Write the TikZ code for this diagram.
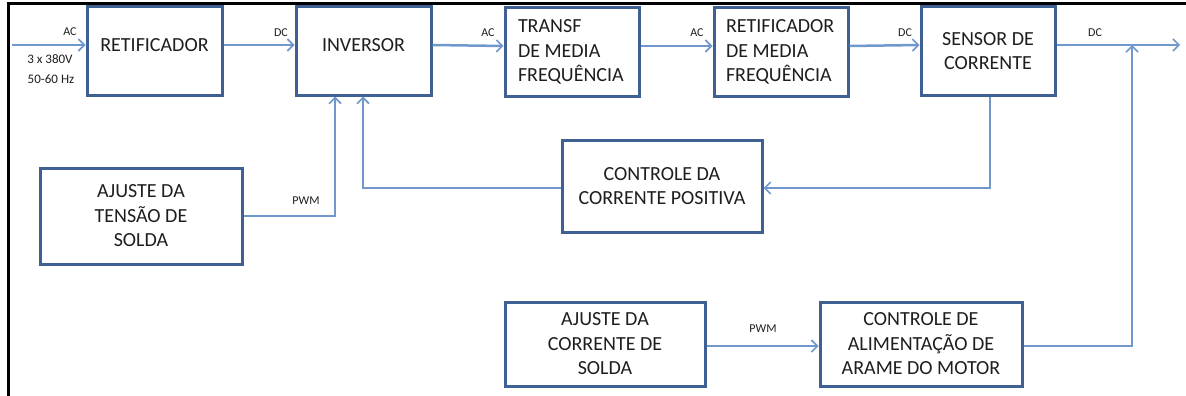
\documentclass[tikz,border=0pt]{standalone}
\usepackage{fontspec}
\setmainfont{Carlito}
\usetikzlibrary{arrows.meta}
\definecolor{boxc}{RGB}{62,96,146}
\definecolor{linec}{RGB}{112,152,204}
\definecolor{txtc}{RGB}{30,30,30}
\begin{document}
\begin{tikzpicture}[x=1pt,y=-1pt,
  blk/.style={draw=boxc,line width=3pt,fill=white,inner sep=0pt,font=\fontsize{20}{24.5}\selectfont,text=txtc,align=center},
  btxt/.style={inner sep=0pt,font=\fontsize{20}{24.5}\selectfont,text=txtc,align=center},
  conn/.style={draw=linec,line width=2.5pt},
  arr/.style={conn,-{Straight Barb[length=6pt,width=12pt,line width=1.6pt]}},
  lbl/.style={font=\fontsize{12}{14}\selectfont,text=txtc,inner sep=0pt},
  ilbl/.style={font=\fontsize{13}{15}\selectfont,text=txtc,inner sep=0pt}]
\useasboundingbox (0,0) rectangle (1186,396);
\draw[line width=3pt] (8,396) -- (8,4) -- (1186,4);

% top row
\node[blk,minimum width=135pt,minimum height=88pt] (ret) at (154.5,51) {};
\node[btxt] (retT) at (154.5,45) {RETIFICADOR};
\node[blk,minimum width=135pt,minimum height=88pt] (inv) at (363.5,51) {};
\node[btxt] (invT) at (363.5,45) {INVERSOR};
\node[blk,minimum width=134pt,minimum height=88pt,text width=108pt,align=flush left] (trf) at (572,52) {TRANSF\\DE MEDIA\\FREQUÊNCIA};
\node[blk,minimum width=134pt,minimum height=88pt,text width=110pt,align=flush left] (rmf) at (781,52) {RETIFICADOR\\DE MEDIA\\FREQUÊNCIA};
\node[blk,minimum width=134pt,minimum height=88pt] (sen) at (988,51) {SENSOR DE\\CORRENTE};

% middle row
\node[blk,minimum width=202pt,minimum height=96pt] (ajt) at (141,216) {AJUSTE DA\\TENSÃO DE\\SOLDA};
\node[blk,minimum width=200pt,minimum height=92pt] (ccp) at (662,186) {CONTROLE DA\\CORRENTE POSITIVA};

% bottom row
\node[blk,minimum width=200pt,minimum height=84pt] (ajc) at (605,344) {AJUSTE DA\\CORRENTE DE\\SOLDA};
\node[blk,minimum width=202pt,minimum height=84pt] (cam) at (921,344) {CONTROLE DE\\ALIMENTAÇÃO DE\\ARAME DO MOTOR};

% coordinates
\coordinate (in) at (12,45);
\coordinate (out) at (1180,45);
\coordinate (j1) at (335,216);
\coordinate (j2) at (363,188);
\coordinate (j3) at (990,188);
\coordinate (j4) at (1132,346);
\coordinate (j5) at (1132,45);

% connectors
\draw[arr] (in) -- ([yshift=6pt]ret.west);
\draw[arr] ([yshift=6pt]ret.east) -- ([yshift=6pt]inv.west);
\draw[arr] ([yshift=6pt]inv.east) -- ([yshift=6pt]trf.west);
\draw[arr] ([yshift=6pt]trf.east) -- ([yshift=6pt]rmf.west);
\draw[arr] ([yshift=6pt]rmf.east) -- ([yshift=6pt]sen.west);
\draw[arr] ([yshift=6pt]sen.east) -- (out);
\draw[arr] (ajt.east) -- (j1) -- (j1 |- inv.south);
\draw[arr] (ccp.west |- j2) -- (j2) -- (j2 |- inv.south);
\draw[arr] (sen.south -| j3) -- (j3) -- (ccp.east |- j3);
\draw[arr] (ajc.east |- j4) -- (cam.west |- j4);
\draw[arr] (cam.east |- j4) -- (j4) -- (j5);

% labels
\node[lbl] (lac0) at (70,32) {AC};
\node[ilbl] (lv) at (50,59) {3 x 380V};
\node[ilbl] (lhz) at (51,79) {50-60 Hz};
\node[lbl] (ldc1) at (281,33) {DC};
\node[lbl] (lac1) at (488,33) {AC};
\node[lbl] (lac2) at (697,33) {AC};
\node[lbl] (ldc2) at (905,33) {DC};
\node[lbl] (ldc3) at (1095,33) {DC};
\node[lbl] (lpwm1) at (306,201) {PWM};
\node[lbl] (lpwm2) at (763,329) {PWM};
\end{tikzpicture}
\end{document}
